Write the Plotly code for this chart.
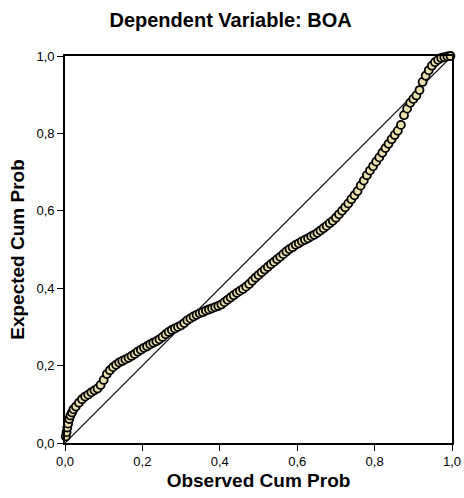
import plotly.graph_objects as go

# Observed cumulative probability (x) and expected cumulative probability (y)
observed = [0.002, 0.004, 0.006, 0.008, 0.011, 0.014, 0.018, 0.022,
            0.028, 0.036, 0.044, 0.052, 0.060, 0.068, 0.076, 0.084, 0.092, 0.100,
            0.108, 0.116, 0.124, 0.132, 0.140, 0.148, 0.156, 0.164, 0.172, 0.180,
            0.188, 0.196, 0.204, 0.212, 0.220, 0.228, 0.236, 0.244, 0.252, 0.260,
            0.268, 0.276, 0.284, 0.292, 0.300, 0.308, 0.316, 0.324, 0.332, 0.340,
            0.348, 0.356, 0.364, 0.372, 0.380, 0.388, 0.396, 0.404, 0.412, 0.420,
            0.428, 0.436, 0.444, 0.452, 0.460, 0.468, 0.476, 0.484, 0.492, 0.500,
            0.508, 0.516, 0.524, 0.532, 0.540, 0.548, 0.556, 0.564, 0.572, 0.580,
            0.588, 0.596, 0.604, 0.612, 0.620, 0.628, 0.636, 0.644, 0.652, 0.660,
            0.668, 0.676, 0.684, 0.692, 0.700, 0.708, 0.716, 0.724, 0.732, 0.740,
            0.748, 0.756, 0.764, 0.772, 0.780, 0.788, 0.796, 0.804, 0.812, 0.820,
            0.828, 0.836, 0.844, 0.852, 0.860, 0.868, 0.876, 0.884, 0.892, 0.900,
            0.908, 0.916, 0.924, 0.932, 0.940, 0.948, 0.956, 0.964, 0.972, 0.980,
            0.988, 0.996]
expected = [0.017, 0.028, 0.040, 0.050, 0.062, 0.071, 0.079, 0.087,
            0.094, 0.104, 0.113, 0.120, 0.125, 0.131, 0.136, 0.141, 0.150, 0.163,
            0.178, 0.188, 0.196, 0.202, 0.208, 0.212, 0.216, 0.220, 0.225, 0.230,
            0.236, 0.241, 0.246, 0.250, 0.255, 0.259, 0.263, 0.268, 0.274, 0.281,
            0.287, 0.292, 0.296, 0.300, 0.304, 0.310, 0.317, 0.322, 0.327, 0.331,
            0.335, 0.338, 0.342, 0.345, 0.348, 0.351, 0.354, 0.358, 0.364, 0.370,
            0.376, 0.382, 0.388, 0.393, 0.398, 0.404, 0.411, 0.419, 0.427, 0.434,
            0.441, 0.448, 0.455, 0.462, 0.468, 0.475, 0.481, 0.488, 0.495, 0.501,
            0.506, 0.512, 0.516, 0.521, 0.525, 0.529, 0.534, 0.538, 0.543, 0.549,
            0.555, 0.561, 0.568, 0.574, 0.582, 0.591, 0.600, 0.609, 0.619, 0.630,
            0.640, 0.651, 0.665, 0.678, 0.692, 0.704, 0.715, 0.727, 0.738, 0.750,
            0.762, 0.773, 0.785, 0.796, 0.807, 0.822, 0.847, 0.864, 0.879, 0.889,
            0.898, 0.912, 0.933, 0.949, 0.963, 0.975, 0.984, 0.990, 0.995, 0.997,
            0.999, 1.000]

ref_x = [0.0, 1.0]
ref_y = [0.0, 1.0]
tick_vals = [0.0, 0.2, 0.4, 0.6, 0.8, 1.0]

FONT = "Liberation Sans, Arial, Helvetica"

fig = go.Figure()
fig.add_trace(go.Scatter(x=ref_x, y=ref_y, mode="lines",
                         line=dict(color="black", width=1.2), hoverinfo="skip"))
fig.add_trace(go.Scatter(x=observed, y=expected, mode="markers", cliponaxis=False,
                         marker=dict(size=8, color="#EAE0AC",
                                     line=dict(color="black", width=1.8))))

axis_common = dict(range=[0, 1], tickvals=tick_vals, tickformat=".1f",
                   showgrid=False, zeroline=False, showline=True, mirror=True,
                   linecolor="black", linewidth=1.6, ticks="outside", ticklen=6,
                   tickwidth=1.4, tickcolor="black", automargin=False,
                   tickfont=dict(family=FONT, size=13, color="black"))

fig.update_layout(
    width=464, height=498,
    margin=dict(l=65, r=12, t=56, b=55),
    paper_bgcolor="white", plot_bgcolor="white",
    separators=",.",
    showlegend=False,
    font=dict(family=FONT, color="black"),
    title=dict(text="<b>Dependent Variable: BOA</b>", x=0.497, xanchor="center",
               y=1 - 20 / 498, yanchor="middle", yref="container",
               font=dict(family=FONT, size=20, color="black")),
    xaxis=dict(axis_common, title=dict(text="<b>Observed Cum Prob</b>", standoff=5,
                                       font=dict(family=FONT, size=19))),
    yaxis=dict(axis_common, title=dict(text="<b>Expected Cum Prob</b>", standoff=7,
                                       font=dict(family=FONT, size=19))),
)

fig.write_html("out.html", config={"displayModeBar": False},
               post_script="document.body.style.margin='0';")
